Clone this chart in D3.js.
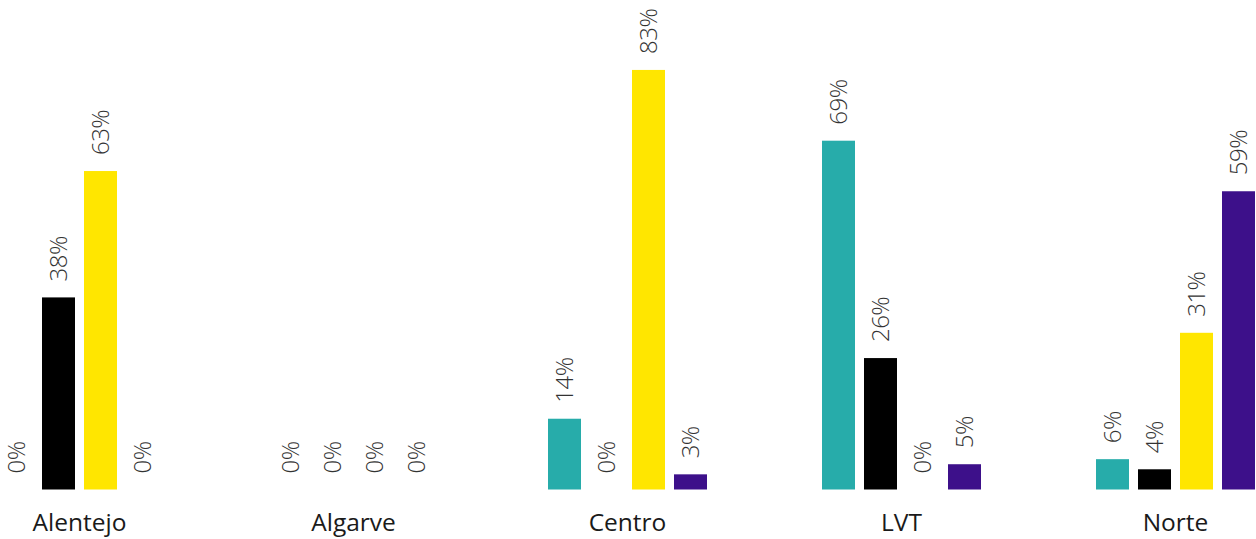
<!DOCTYPE html>
<html>
<head>
<meta charset="utf-8">
<script src="https://cdn.jsdelivr.net/npm/d3@7"></script>
<style>
  html, body { margin: 0; padding: 0; background: #fff; }
  svg { display: block; }
</style>
</head>
<body>
<svg id="chart" width="1256" height="539"></svg>
<script>
const categories = ["Alentejo", "Algarve", "Centro", "LVT", "Norte"];
const seriesNames = ["Série 1", "Série 2", "Série 3", "Série 4"];
const series1 = [0, 0, 14, 69, 6];
const series2 = [38, 0, 0, 26, 4];
const series3 = [63, 0, 83, 0, 31];
const series4 = [0, 0, 3, 5, 59];
const seriesColors = ["#27ACAA", "#000000", "#FFE600", "#3D108A"];

const allSeries = [series1, series2, series3, series4];
const rows = categories.map((c, i) => ({
  cat: c,
  values: seriesNames.map((s, j) => ({ key: s, idx: j, value: allSeries[j][i] }))
}));

const svg = d3.select("#chart");

const x0 = d3.scaleBand().domain(categories).range([0, 1255]).paddingInner(115 / 274).paddingOuter(0);
const x1 = d3.scaleBand().domain(seriesNames).range([0, x0.bandwidth()]).paddingInner(9 / 42).paddingOuter(0);
const y = d3.scaleLinear().domain([0, 100]).range([489.5, -16]);
const color = d3.scaleOrdinal().domain(seriesNames).range(seriesColors);

const groups = svg.selectAll("g.grp").data(rows).join("g")
  .attr("class", "grp")
  .attr("transform", d => `translate(${x0(d.cat)},0)`);

groups.selectAll("rect").data(d => d.values).join("rect")
  .attr("x", d => x1(d.key))
  .attr("width", x1.bandwidth())
  .attr("y", d => y(d.value))
  .attr("height", d => y(0) - y(d.value))
  .attr("fill", d => color(d.key));

groups.selectAll("text.val").data(d => d.values).join("text")
  .attr("class", "val")
  .attr("transform", d => `translate(${x1(d.key) + x1.bandwidth() / 2},${y(d.value) - 16}) rotate(-90)`)
  .attr("dy", "0.36em")
  .attr("text-anchor", "start")
  .style("font-family", "'Open Sans', sans-serif")
  .style("font-weight", 300)
  .style("letter-spacing", "-0.5px")
  .style("font-size", "24px")
  .style("fill", "#333")
  .text(d => d.value + "%");

const xAxis = d3.axisBottom(x0).tickSize(0).tickPadding(0);
const axisG = svg.append("g").attr("transform", "translate(0,514)").call(xAxis);
axisG.select(".domain").remove();
axisG.selectAll("text")
  .attr("dy", "0.71em")
  .attr("y", 0)
  .style("font-family", "'Open Sans', sans-serif")
  .style("font-weight", 400)
  .style("font-size", "24.5px")
  .style("fill", "#1a1a1a");
</script>
</body>
</html>
